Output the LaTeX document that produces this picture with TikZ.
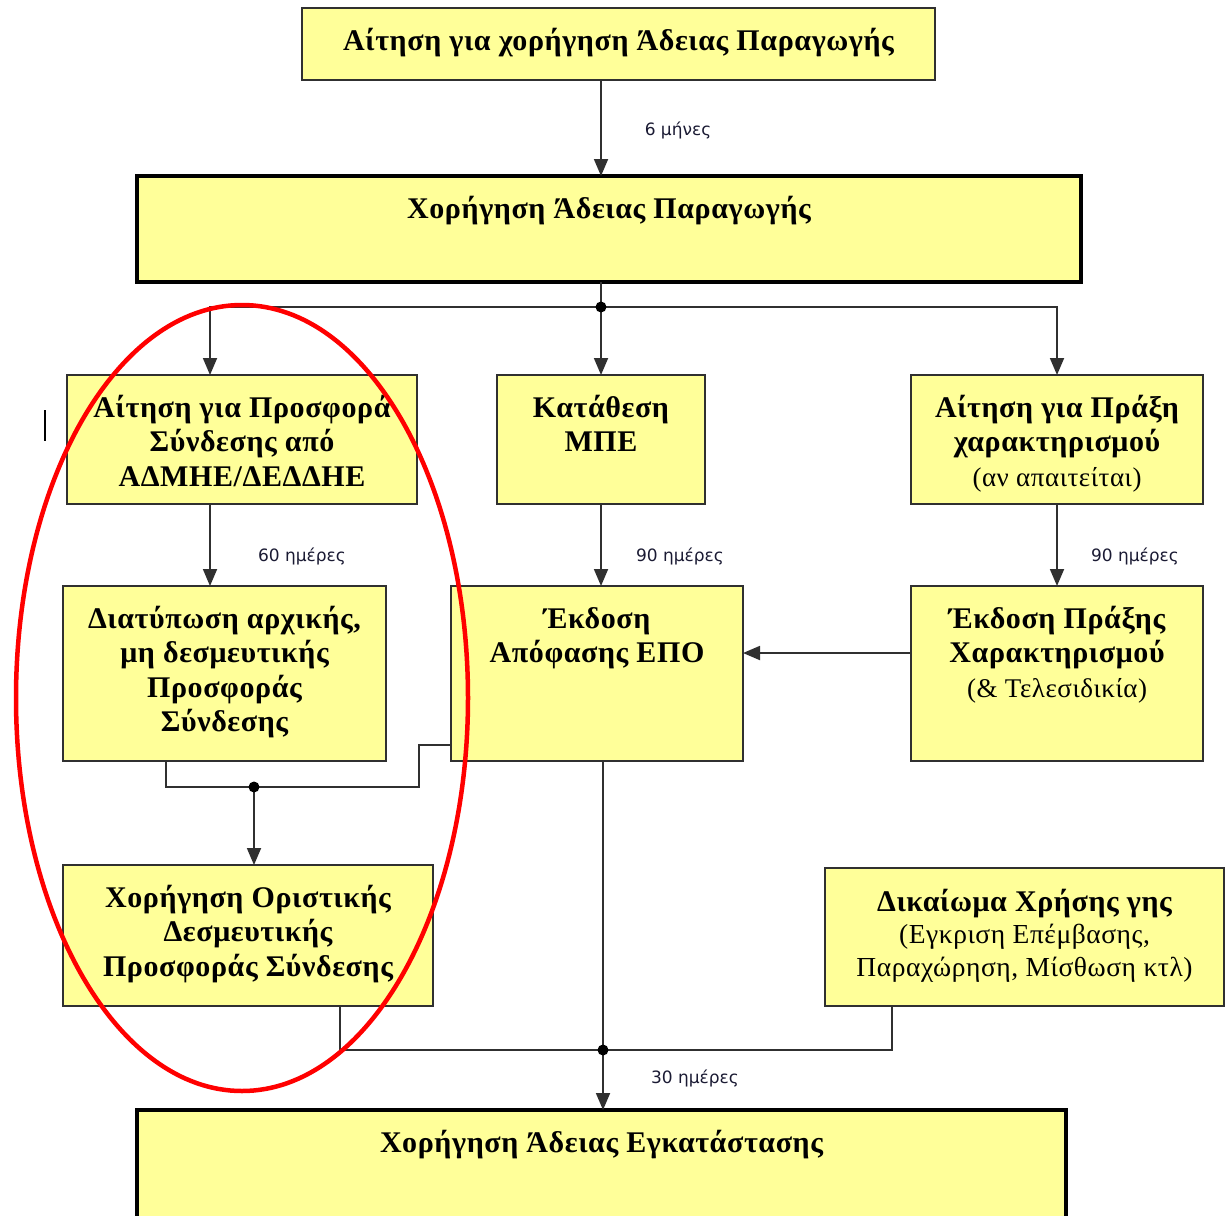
\documentclass[tikz,border=0pt]{standalone}
\usepackage{fontspec}
\setmainfont{Liberation Serif}[LetterSpace=2]
\newfontfamily\lblfont{DejaVu Sans}
\usetikzlibrary{arrows.meta}
\definecolor{boxfill}{HTML}{FFFF99}
\definecolor{lnc}{HTML}{303030}
\definecolor{lbltext}{HTML}{1A1A33}
\newcommand\firstl{\rule{0pt}{28pt}}
\begin{document}
\begin{tikzpicture}[x=1pt,y=-1pt,
 box/.style={draw=lnc, line width=1.6pt, fill=boxfill, anchor=north west, inner sep=0pt, outer sep=0pt},
 bigbox/.style={box, draw=black, line width=3.2pt},
 txt/.style={anchor=north, inner sep=0pt, align=center, font=\fontsize{30}{34.5}\selectfont\bfseries},
 lbl/.style={font=\lblfont\fontsize{17}{20}\selectfont, text=lbltext, inner sep=0pt},
 conn/.style={draw=lnc, line width=1.8pt},
 arr/.style={conn, -{Triangle[width=14pt,length=17pt]}},
 dot/.style={circle, fill=black, inner sep=0pt, minimum size=11pt},
]
\useasboundingbox (0,0) rectangle (1228,1215);
\clip (0,0) rectangle (1228,1215);

% helper coordinates
\coordinate (xm) at (601,0);
\coordinate (x1) at (210,0);
\coordinate (r) at (0,653);
\coordinate (j1) at (601,307);
\coordinate (j2) at (254,787);
\coordinate (j3) at (603,1050);
\coordinate (k1) at (166,787);
\coordinate (k2) at (419,787);
\coordinate (k3) at (419,745);
\coordinate (k4) at (340,1050);
\coordinate (k5) at (892,1050);

% boxes
\node[box, minimum width=633pt, minimum height=72pt] (a) at (302,8) {};
\node[bigbox, minimum width=944pt, minimum height=106pt] (b) at (137,176) {};
\node[box, minimum width=350pt, minimum height=129pt] (c1) at (67,375) {};
\node[box, minimum width=208pt, minimum height=129pt] (c2) at (497,375) {};
\node[box, minimum width=292pt, minimum height=129pt] (c3) at (911,375) {};
\node[box, minimum width=323pt, minimum height=175pt] (d1) at (63,586) {};
\node[box, minimum width=292pt, minimum height=175pt] (d2) at (451,586) {};
\node[box, minimum width=292pt, minimum height=175pt] (d3) at (911,586) {};
\node[box, minimum width=370pt, minimum height=141pt] (e1) at (63,865) {};
\node[box, minimum width=399pt, minimum height=138pt] (e2) at (825,868) {};
\node[bigbox, minimum width=929pt, minimum height=140pt] (f) at (137,1110) {};

% texts
\node[txt] (ta) at ([yshift=-14pt]a.north) {\firstl Αίτηση για χορήγηση Άδειας Παραγωγής};
\node[txt] (tb) at ([yshift=-14pt]b.north) {\firstl Χορήγηση Άδειας Παραγωγής};
\node[txt] (tc1) at ([yshift=-14pt]c1.north) {\firstl Αίτηση για Προσφορά\\Σύνδεσης από\\ΑΔΜΗΕ/ΔΕΔΔΗΕ};
\node[txt] (tc2) at ([yshift=-14pt]c2.north) {\firstl Κατάθεση\\ΜΠΕ};
\node[txt] (tc3) at ([yshift=-14pt]c3.north) {\firstl Αίτηση για Πράξη\\χαρακτηρισμού\\{\mdseries\fontsize{27}{34.5}\selectfont (αν απαιτείται)}};
\node[txt] (td1) at ([yshift=-14pt]d1.north) {\firstl Διατύπωση αρχικής,\\μη δεσμευτικής\\Προσφοράς\\Σύνδεσης};
\node[txt] (td2) at ([yshift=-14pt]d2.north) {\firstl Έκδοση\\Απόφασης ΕΠΟ};
\node[txt] (td3) at ([yshift=-14pt]d3.north) {\firstl Έκδοση Πράξης\\Χαρακτηρισμού\\{\mdseries\fontsize{27}{34.5}\selectfont (\& Τελεσιδικία)}};
\node[txt] (te1) at ([yshift=-14pt]e1.north) {\firstl Χορήγηση Οριστικής\\Δεσμευτικής\\Προσφοράς Σύνδεσης};
\node[txt, font=\fontsize{30}{32.5}\selectfont\bfseries] (te2) at ([yshift=-15pt]e2.north) {\firstl Δικαίωμα Χρήσης γης\\{\mdseries\fontsize{27.5}{32.5}\selectfont (Εγκριση Επέμβασης,}\\{\mdseries\fontsize{27.5}{32.5}\selectfont Παραχώρηση, Μίσθωση κτλ)}};
\node[txt] (tf) at ([yshift=-14pt]f.north) {\firstl Χορήγηση Άδειας Εγκατάστασης};

% connectors
\draw[arr] (a.south -| xm) -- (b.north -| xm);
\draw[conn] (b.south -| j1) -- (j1);
\draw[arr] (j1) -| (c1.north -| x1);
\draw[arr] (j1) -- (c2.north -| j1);
\draw[arr] (j1) -| (c3.north);
\draw[arr] (c1.south -| x1) -- (d1.north -| x1);
\draw[arr] (c2.south -| xm) -- (d2.north -| xm);
\draw[arr] (c3.south) -- (d3.north);
\draw[arr] (d3.west |- r) -- (d2.east |- r);
\draw[conn] (d1.south -| k1) -- (k1) -- (k2) -- (k3) -- (d2.west |- k3);
\draw[arr] (j2) -- (e1.north -| j2);
\draw[conn] (d2.south -| j3) -- (j3);
\draw[arr] (j3) -- (f.north -| j3);
\draw[conn] (e1.south -| k4) -- (k4) -- (k5) -- (e2.south -| k5);
\node[dot] (d-j1) at (j1) {};
\node[dot] (d-j2) at (j2) {};
\node[dot] (d-j3) at (j3) {};

% labels
\node[lbl] (l1) at (678,130) {6 μήνες};
\node[lbl] (l2) at (302,556) {60 ημέρες};
\node[lbl] (l3) at (680,556) {90 ημέρες};
\node[lbl] (l4) at (1135,556) {90 ημέρες};
\node[lbl] (l5) at (695,1078) {30 ημέρες};

% cursor mark
\coordinate (cm1) at (45,410);
\coordinate (cm2) at (45,441);
\draw[line width=2pt, black] (cm1) -- (cm2);

% red ellipse
\draw[red, line width=4.5pt] (242,698) ellipse [x radius=226, y radius=393];
\end{tikzpicture}
\end{document}
